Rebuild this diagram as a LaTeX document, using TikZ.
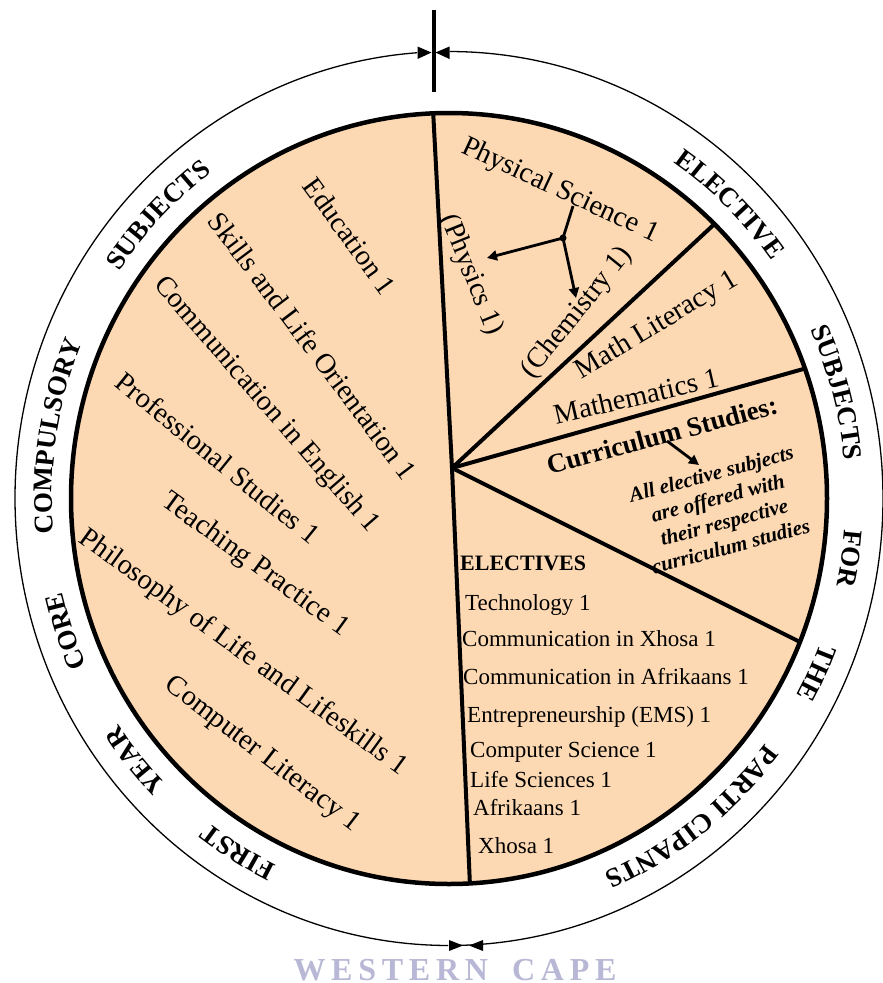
\documentclass[tikz,border=0pt]{standalone}
\usepackage{fontspec}
\setmainfont{Liberation Serif}
\newfontfamily\wcfont[LetterSpace=18]{Liberation Serif}
\usetikzlibrary{arrows.meta,decorations.text,bending}
\definecolor{peach}{RGB}{253,217,179}
\definecolor{wcgray}{RGB}{184,184,214}
\newcommand\ringfont{\fontsize{27}{30}\selectfont\bfseries}
\newcommand\ringword[2]{%
  \path[decorate,decoration={text along path,text align=center,text={|\ringfont|#1}}]
    (C) ++({#2+24}:397 and 407) arc[start angle={#2+24}, end angle={#2-24}, x radius=397, y radius=407];}
\begin{document}
\begin{tikzpicture}[x=1pt,y=1pt,
  subj/.style={inner sep=0pt, font=\fontsize{28.5}{30}\selectfont},
  elec/.style={inner sep=0pt, anchor=base west, font=\fontsize{23}{25}\selectfont},
  bord/.style={line width=4.5pt},
  divline/.style={line width=4pt, line join=round},
  ringarc/.style={line width=1.3pt},
  tiphead/.style={fill=black},
  arr/.style={line width=2.8pt, -{Triangle[length=10pt,width=10pt]}}]
\useasboundingbox (0,0) rectangle (883,-983);
\fill[white] (0,0) rectangle (883,-983);
\coordinate (C) at (449,-498.5);
\coordinate (J) at (452,-468);
\coordinate (top) at (432.4,-98);
\coordinate (bot) at (470.5,-898);
\coordinate (r1) at (722,-217);
\coordinate (r2) at (814,-366);
\coordinate (r3) at (810,-647);
% inner disc
\fill[peach] (C) ellipse [x radius=378, y radius=385.5];
\begin{scope}
  \clip (C) ellipse [x radius=378, y radius=385.5];
  \draw[divline] (top) -- (J) -- (bot);
  \draw[divline] (J) -- (r1);
  \draw[divline] (J) -- (r2);
  \draw[divline] (J) -- (r3);
\end{scope}
\draw[bord] (C) ellipse [x radius=378, y radius=385.5];
% outer arcs, ending next to the arrow heads
\draw[ringarc] (C) ++(94.2:434 and 447) arc[start angle=94.2, end angle=269.9, x radius=434, y radius=447];
\draw[ringarc] (C) ++(89.9:434 and 447) arc[start angle=89.9, end angle=-89.0, x radius=434, y radius=447];
% arrow heads at the meeting points
\coordinate (tl) at (431.5,-52.5);
\coordinate (tr) at (435.5,-52.5);
\coordinate (bl) at (463,-945.5);
\coordinate (br) at (469,-945.5);
\fill[tiphead] (tl) -- ++(-14,6) -- ++(0,-12.5) -- cycle;
\fill[tiphead] (tr) -- ++(14,6) -- ++(0,-12.5) -- cycle;
\fill[tiphead] (bl) -- ++(-14,5.5) -- ++(0,-11) -- cycle;
\fill[tiphead] (br) -- ++(14,5.5) -- ++(0,-11) -- cycle;
% top tick
\coordinate (tk1) at (433.5,-10);
\coordinate (tk2) at (433.5,-92);
\draw[line width=4pt] (tk1) -- (tk2);
% ring words
\ringword{SUBJECTS}{136.3}
\ringword{COMPULSORY}{171.1}
\ringword{CORE}{198.8}
\ringword{YEAR}{219.3}
\ringword{FIRST}{238.7}
\ringword{ELECTIVE}{45.7}
\ringword{SUBJECTS}{15}
\ringword{FOR}{-8.4}
\ringword{THE}{-25}
\ringword{PARTI CIPANTS}{-52.1}
% left subjects
\node[subj, rotate=-54] (edu) at (350,-236) {Education 1};
\node[subj, rotate=-53] (slo) at (313,-346) {Skills and Life Orientation 1};
\node[subj, rotate=-49] (cie) at (266,-405) {Communication in English 1};
\node[subj, rotate=-39] (pros) at (218,-458) {Professional Studies 1};
\node[subj, rotate=-36] (tp) at (255,-565) {Teaching Practice 1};
\node[subj, rotate=-36] (pll) at (243,-653) {Philosophy of Life and Lifeskills 1};
\node[subj, rotate=-37.5] (cl) at (262,-755) {Computer Literacy 1};
% right sectors
\node[subj, rotate=-25] (phs) at (560,-191) {Physical Science 1};
\node[subj, rotate=-68] (phy) at (471,-275) {(Physics 1)};
\node[subj, rotate=51] (chem) at (577,-313) {(Chemistry 1)};
\node[subj, rotate=31] (ml) at (657,-326) {Math Literacy 1};
\node[subj, rotate=13] (math) at (636,-396) {Mathematics 1};
\node[inner sep=0pt, rotate=15, font=\bfseries\fontsize{27}{30}\selectfont] (cs) at (662,-435) {Curriculum Studies:};
\node[inner sep=0pt, rotate=15, align=center, font=\bfseries\itshape\fontsize{21}{25}\selectfont] (all) at (721,-510)
  {All elective subjects\\are offered with\\their respective\\curriculum studies};
% Y arrows
\coordinate (pstop) at (573,-206);
\coordinate (psj) at (563,-238);
\coordinate (phyt) at (487,-258);
\coordinate (chemt) at (576,-298);
\draw[line width=2.8pt] (pstop) -- (psj);
\draw[arr] (psj) -- (phyt);
\draw[arr] (psj) -- (chemt);
\fill (psj) circle (3.5);
\coordinate (csa) at (667,-441);
\coordinate (csb) at (699,-465);
\draw[arr] (csa) -- (csb);
% electives list
\node[inner sep=0pt, anchor=base west, font=\bfseries\fontsize{22}{24}\selectfont] (el) at (460,-570) {ELECTIVES};
\node[elec] (e1) at (465,-610) {Technology 1};
\node[elec] (e2) at (462,-646) {Communication in Xhosa 1};
\node[elec] (e3) at (463,-684) {Communication in Afrikaans 1};
\node[elec] (e4) at (467,-722) {Entrepreneurship (EMS) 1};
\node[elec] (e5) at (470,-757) {Computer Science 1};
\node[elec] (e6) at (470,-787) {Life Sciences 1};
\node[elec] (e7) at (473,-815) {Afrikaans 1};
\node[elec] (e8) at (478,-853) {Xhosa 1};
% watermark
\node[anchor=base, inner sep=0pt, text=wcgray, font=\wcfont\bfseries\fontsize{32}{32}\selectfont] (wc) at (455,-980) {WESTERN\hspace{24pt}CAPE};
\end{tikzpicture}
\end{document}
